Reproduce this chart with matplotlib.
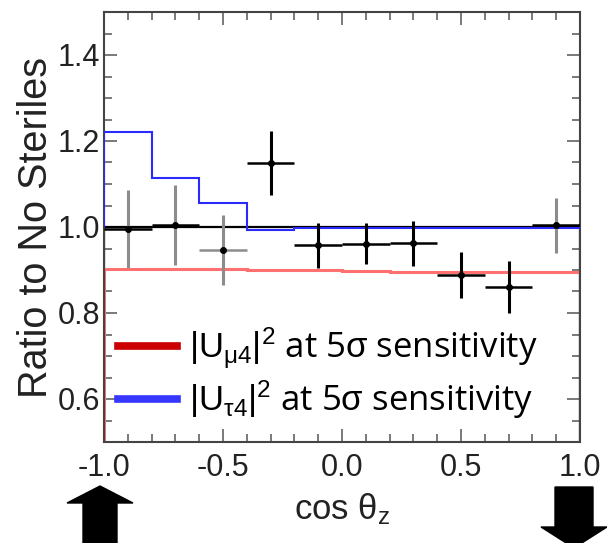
import numpy as np
import matplotlib
matplotlib.use('Agg')
import matplotlib.pyplot as plt
from matplotlib.patches import Polygon
from matplotlib.ticker import MultipleLocator

# data
bin_edges = [-1.0, -0.8, -0.6, -0.4, -0.2, 0.0, 0.2, 0.4, 0.6, 0.8, 1.0]
x_pts = [-0.9, -0.7, -0.5, -0.3, -0.1, 0.1, 0.3, 0.5, 0.7, 0.9]
ratio = [0.995, 1.005, 0.946, 1.149, 0.957, 0.961, 0.962, 0.889, 0.860, 1.004]
ratio_err = [0.090, 0.093, 0.082, 0.075, 0.052, 0.048, 0.052, 0.053, 0.060, 0.064]
x_halfwidth = [0.1] * 10
umu4_ratio = [0.903, 0.903, 0.903, 0.899, 0.899, 0.897, 0.895, 0.895, 0.895, 0.895]
utau4_ratio = [1.220, 1.113, 1.055, 0.993, 0.997, 0.997, 0.997, 0.997, 0.997, 0.997]
no_sterile = [1.0] * 10

# error bar colours (some bars look grey in the original)
vcol = ['#8c8c8c', '#8c8c8c', '#8c8c8c', 'black', 'black', 'black', 'black', 'black', 'black', '#8c8c8c']
hcol = ['black', 'black', '#8c8c8c', 'black', 'black', 'black', 'black', 'black', 'black', 'black']

plt.rcParams['font.family'] = ['Liberation Sans', 'DejaVu Sans']
plt.rcParams['mathtext.fontset'] = 'custom'
plt.rcParams['mathtext.rm'] = 'Liberation Sans'
plt.rcParams['mathtext.it'] = 'Liberation Sans:italic'

W, H = 607, 543
fig = plt.figure(figsize=(W / 100, H / 100), dpi=100)
ax = fig.add_axes([104 / W, 1 - 442 / H, 476 / W, 430 / H])

ax.stairs(no_sterile, bin_edges, color='black', lw=1.6, zorder=2)
ax.stairs(umu4_ratio, bin_edges, color='#ff7070', lw=2.2, zorder=2)
ax.stairs(utau4_ratio, bin_edges, baseline=1.0, color='#2a2aff', lw=1.5, zorder=3)

for i in range(len(x_pts)):
    ax.plot([x_pts[i], x_pts[i]], [ratio[i] - ratio_err[i], ratio[i] + ratio_err[i]],
            color=vcol[i], lw=2.2, solid_capstyle='butt', zorder=4)
    ax.plot([x_pts[i] - x_halfwidth[i], x_pts[i] + x_halfwidth[i]], [ratio[i], ratio[i]],
            color=hcol[i], lw=1.8, solid_capstyle='butt', zorder=4)
ax.plot(x_pts, ratio, 'o', color='black', ms=4, zorder=5)

# legend
ax.plot([], [], color='#cc0000', lw=5.5,
        label=r'$|\mathrm{U}_{\mathrm{\mu 4}}|^{2}$ at 5$\mathrm{\sigma}$ sensitivity')
ax.plot([], [], color='#3636ff', lw=5.5,
        label=r'$|\mathrm{U}_{\mathrm{\tau 4}}|^{2}$ at 5$\mathrm{\sigma}$ sensitivity')
leg = ax.legend(loc='lower left', bbox_to_anchor=(0.03, 0.048), frameon=False,
                borderpad=0, borderaxespad=0,
                handlelength=1.7, handletextpad=0.35, labelspacing=0.22,
                prop={'family': ['Open Sans', 'DejaVu Sans'], 'size': 25})

ax.set_xlim(-1, 1)
ax.set_ylim(0.5, 1.5)
ax.xaxis.set_major_locator(MultipleLocator(0.5))
ax.xaxis.set_minor_locator(MultipleLocator(0.1))
ax.yaxis.set_major_locator(MultipleLocator(0.2))
ax.yaxis.set_minor_locator(MultipleLocator(0.05))
ax.xaxis.set_major_formatter(matplotlib.ticker.FormatStrFormatter('%.1f'))
ax.yaxis.set_major_formatter(matplotlib.ticker.FormatStrFormatter('%.1f'))

ax.tick_params(which='both', direction='in', top=True, right=True, color='#555555', width=1.1)
ax.tick_params(which='major', length=9.5)
ax.tick_params(which='minor', length=5.8)
ax.tick_params(axis='x', pad=8, labelsize=22, labelcolor='#222222')
ax.tick_params(axis='y', pad=3, labelsize=22, labelcolor='#222222')
for s in ax.spines.values():
    s.set_color('#444444')
    s.set_linewidth(1.5)

ax.set_ylabel('Ratio to No Steriles', fontsize=28.5, color='#222222', labelpad=2)
ax.set_xlabel(r'cos $\mathrm{\theta_{z}}$', fontsize=25, color='#222222', labelpad=6)

# up / down arrows under the axis (figure pixels, origin top-left)
def px(pts):
    return [(x / W, 1 - y / H) for x, y in pts]

up = [(100, 486), (133, 503), (117, 503), (117, 545), (83, 545), (83, 503), (67, 503)]
down = [(555, 487), (593, 487), (593, 527), (607, 527), (574, 548), (541, 527), (555, 527)]
for shape in (up, down):
    fig.patches.append(Polygon(px(shape), closed=True, facecolor='black', edgecolor='black',
                               transform=fig.transFigure, figure=fig))

fig.savefig('out.png', dpi=100)
